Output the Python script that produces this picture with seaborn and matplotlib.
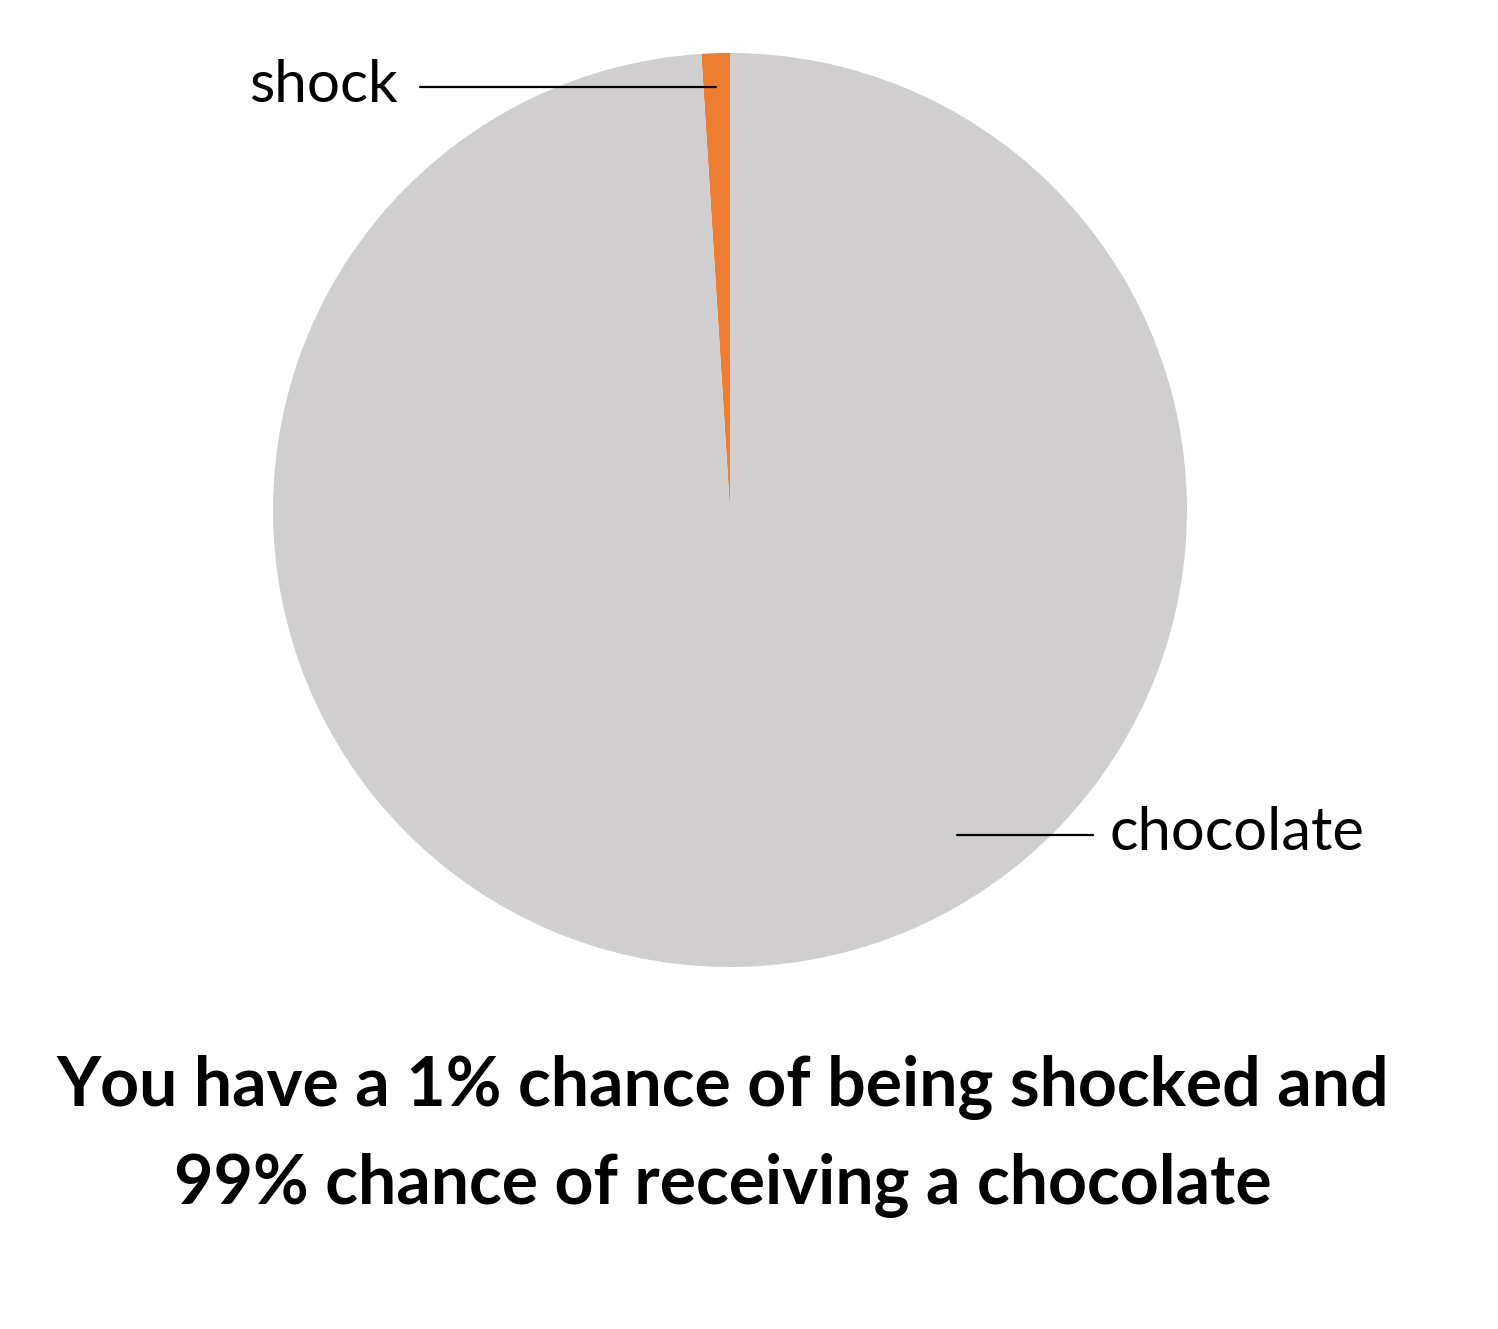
import matplotlib
matplotlib.use("Agg")
import matplotlib.pyplot as plt
import seaborn as sns

# Data
categories = ["shock", "chocolate"]
values = [1, 99]
colors = ["#ED7D31", "#D0CECE"]
title_lines = ["You have a 1% chance of being shocked and",
               "99% chance of receiving a chocolate"]

sns.set_theme(style="white")
plt.rcParams['font.family'] = ['Lato', 'DejaVu Sans']

W, H = 1498, 1329
fig = plt.figure(figsize=(W / 100, H / 100), dpi=100)
ax = fig.add_axes([0, 0, 1, 1])

cx, cy, r = 730, H - 510, 457
ax.pie(values, colors=colors, startangle=90, counterclock=True,
       center=(cx, cy), radius=r, frame=True,
       wedgeprops=dict(linewidth=0))
ax.set_xlim(0, W)
ax.set_ylim(0, H)
ax.set_aspect('equal')
ax.set_axis_off()

# labels with leader lines
ax.plot([420, 716], [H - 87, H - 87], color="black", lw=1.6)
ax.text(398, H - 85, categories[0], ha="right", va="center", fontsize=42, color="black")
ax.plot([957, 1093], [H - 835, H - 835], color="black", lw=1.6)
ax.text(1110, H - 833, categories[1], ha="left", va="center", fontsize=43, color="black")

ax.text(723, H - 1088, title_lines[0], ha="center", va="center",
        fontsize=49, fontweight="bold", color="black")
ax.text(723, H - 1185, title_lines[1], ha="center", va="center",
        fontsize=49, fontweight="bold", color="black")

fig.savefig("out.png", dpi=100, facecolor="white")
